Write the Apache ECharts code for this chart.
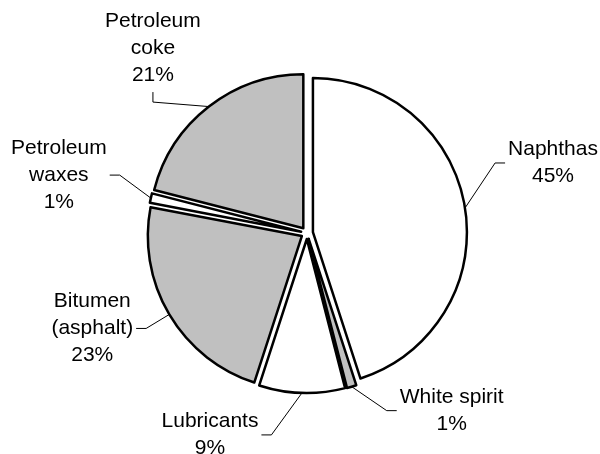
<!DOCTYPE html>
<html>
<head>
<meta charset="utf-8">
<script src="https://cdn.jsdelivr.net/npm/echarts@6/dist/echarts.min.js"></script>
<style>
  html, body { margin: 0; padding: 0; background: #ffffff; }
  #chart { width: 600px; height: 454px; }
</style>
</head>
<body>
<div id="chart"></div>
<script>
// Refined petroleum products: share of output
const categories = ['Naphthas', 'White spirit', 'Lubricants', 'Bitumen\n(asphalt)', 'Petroleum\nwaxes', 'Petroleum\ncoke'];
const shares = [45, 1, 9, 23, 1, 21];
const fills = ['#ffffff', '#c0c0c0', '#ffffff', '#c0c0c0', '#ffffff', '#c0c0c0'];

// Where each label sits relative to the outer edge point of its slice,
// and which side of the label the leader line attaches to.
const labelPlacement = [
  { dx: 88, dy: -45, attach: 'left' },
  { dx: 100, dy: 24, attach: 'left' },
  { dx: -92, dy: 42, attach: 'right' },
  { dx: -77, dy: 14, attach: 'right' },
  { dx: -92, dy: -23, attach: 'right' },
  { dx: -56, dy: -58, attach: 'bottom' }
];

const EXPLODE = 6;
const PIE_CENTER = [307, 233];
const PIE_RADIUS = 154;
const chart = echarts.init(document.getElementById('chart'), null, { renderer: 'canvas' });

// Outer edge point at a slice's mid angle, pushed out by the explode offset
function edgePoint(idx) {
  const layout = chart.getModel().getSeriesByIndex(0).getData().getItemLayout(idx);
  const mid = (layout.startAngle + layout.endAngle) / 2;
  const rr = layout.r + EXPLODE;
  return [layout.cx + Math.cos(mid) * rr, layout.cy + Math.sin(mid) * rr];
}

const labelFont = {
  fontFamily: '"Liberation Sans", Arial, sans-serif',
  fontSize: 21,
  lineHeight: 27,
  color: '#000000'
};

const option = {
  animation: false,
  backgroundColor: '#ffffff',
  series: [
    {
      // exploded slices
      type: 'pie',
      center: PIE_CENTER,
      radius: PIE_RADIUS,
      startAngle: 90,
      clockwise: true,
      selectedMode: 'multiple',
      selectedOffset: EXPLODE,
      emphasis: { disabled: true },
      silent: true,
      z: 2,
      itemStyle: { borderColor: '#000000', borderWidth: 2.5 },
      label: { show: false },
      labelLine: { show: false },
      data: categories.map(function (name, i) {
        return {
          name: name,
          value: shares[i],
          selected: true,
          itemStyle: { color: fills[i] },
          select: { itemStyle: { color: fills[i], borderColor: '#000000', borderWidth: 2.5 } }
        };
      })
    },
    {
      // category labels with leader lines
      type: 'pie',
      center: PIE_CENTER,
      radius: PIE_RADIUS,
      startAngle: 90,
      clockwise: true,
      selectedMode: false,
      emphasis: { disabled: true },
      silent: true,
      z: 1,
      itemStyle: { color: 'rgba(255,255,255,0)', borderWidth: 0 },
      label: Object.assign({
        show: true,
        position: 'outside',
        formatter: function (p) { return p.name + '\n' + Math.round(p.percent) + '%'; }
      }, labelFont),
      labelLine: { show: true, length: 10, length2: 10, lineStyle: { color: '#000000', width: 1 } },
      labelLayout: function (p) {
        const i = p.dataIndex;
        const place = labelPlacement[i];
        const a = edgePoint(i);
        const cx = a[0] + place.dx;
        const cy = a[1] + place.dy;
        const w = p.labelRect.width;
        const h = p.labelRect.height;
        let end, elbow;
        if (place.attach === 'left') {
          end = [cx - w / 2 - 3, cy];
          elbow = [end[0] - 10, cy];
        } else if (place.attach === 'right') {
          end = [cx + w / 2 + 3, cy];
          elbow = [end[0] + 10, cy];
        } else {
          end = [cx, cy + h / 2 + 3];
          elbow = [cx, end[1] + 10];
        }
        return {
          x: cx,
          y: cy,
          align: 'center',
          verticalAlign: 'middle',
          labelLinePoints: [a, elbow, end]
        };
      },
      data: categories.map(function (name, i) {
        return { name: name, value: shares[i] };
      })
    }
  ]
};

chart.setOption(option);
</script>
</body>
</html>
